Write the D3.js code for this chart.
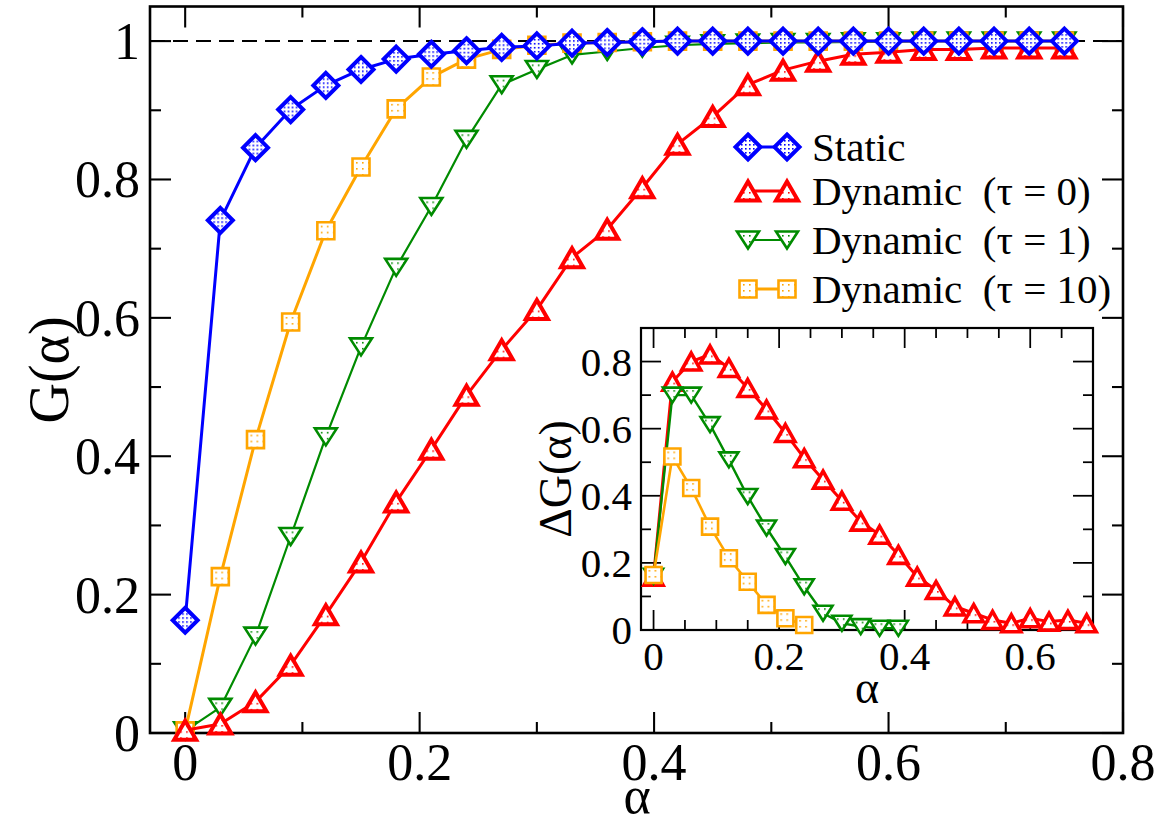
<!DOCTYPE html>
<html>
<head>
<meta charset="utf-8">
<script src="https://cdn.jsdelivr.net/npm/d3@7"></script>
<style>
  html, body { margin: 0; padding: 0; background: #fff; }
  svg { display: block; }
</style>
</head>
<body>
<svg id="chart" width="1172" height="824"></svg>
<script>
// ---------------- DATA ----------------
const alpha = [0, 0.03, 0.06, 0.09, 0.12, 0.15, 0.18, 0.21, 0.24, 0.27, 0.30, 0.33, 0.36,
               0.39, 0.42, 0.45, 0.48, 0.51, 0.54, 0.57, 0.60, 0.63, 0.66, 0.69, 0.72, 0.75];
const staticG = [0.163, 0.741, 0.846, 0.901, 0.936, 0.959, 0.974, 0.981, 0.986, 0.991, 0.993, 0.997, 0.998,
                 0.999, 1.0, 1.0, 1.0, 1.0, 1.0, 1.0, 1.0, 1.0, 1.0, 1.0, 1.0, 1.0];
const tau0G = [0.004, 0.013, 0.045, 0.098, 0.171, 0.247, 0.334, 0.410, 0.488, 0.554, 0.612, 0.687, 0.728,
               0.788, 0.851, 0.891, 0.937, 0.958, 0.971, 0.981, 0.984, 0.988, 0.988, 0.990, 0.990, 0.990];
const tau1G = [0.003, 0.037, 0.140, 0.284, 0.428, 0.558, 0.673, 0.761, 0.858, 0.937, 0.959, 0.980, 0.985,
               0.990, 0.994, 0.996, 0.997, 0.998, 0.998, 0.999, 0.999, 1.0, 1.0, 1.0, 1.0, 1.0];
const tau10G = [0.003, 0.226, 0.424, 0.594, 0.726, 0.818, 0.902, 0.948, 0.974, 0.988, 0.994, 0.997, 0.998,
                0.999, 1.0, 1.0, 1.0, 1.0, 1.0, 1.0, 1.0, 1.0, 1.0, 1.0, 1.0, 1.0];

// inset: Delta G(alpha)
const insetAlphaTau0 = [0, 0.03, 0.06, 0.09, 0.12, 0.15, 0.18, 0.21, 0.24, 0.27, 0.30, 0.33,
                        0.36, 0.39, 0.42, 0.45, 0.48, 0.51, 0.54, 0.57, 0.60, 0.63, 0.66, 0.69];
const dTau0 = [0.159, 0.740, 0.800, 0.821, 0.781, 0.721, 0.657, 0.587, 0.512, 0.448, 0.385, 0.323,
               0.284, 0.224, 0.159, 0.119, 0.070, 0.050, 0.030, 0.020, 0.035, 0.025, 0.030, 0.020];
const insetAlphaTau1 = [0, 0.03, 0.06, 0.09, 0.12, 0.15, 0.18, 0.21, 0.24, 0.27, 0.30, 0.33, 0.36, 0.39];
const dTau1 = [0.160, 0.700, 0.700, 0.612, 0.507, 0.398, 0.304, 0.219, 0.129, 0.050, 0.020, 0.010, 0.005, 0.005];
const insetAlphaTau10 = [0, 0.03, 0.06, 0.09, 0.12, 0.15, 0.18, 0.21, 0.24];
const dTau10 = [0.164, 0.517, 0.423, 0.308, 0.214, 0.144, 0.075, 0.035, 0.015];

const xMajor = [0, 0.2, 0.4, 0.6, 0.8];
const xMajorLabels = ["0", "0.2", "0.4", "0.6", "0.8"];
const xMinor = [0.1, 0.3, 0.5, 0.7];
const yMajor = [0, 0.2, 0.4, 0.6, 0.8, 1];
const yMajorLabels = ["0", "0.2", "0.4", "0.6", "0.8", "1"];
const yMinor = [0.1, 0.3, 0.5, 0.7, 0.9];

const ixMajor = [0, 0.2, 0.4, 0.6];
const ixMajorLabels = ["0", "0.2", "0.4", "0.6"];
const ixMinor = [0.05, 0.1, 0.15, 0.25, 0.3, 0.35, 0.45, 0.5, 0.55, 0.65];
const iyMajor = [0, 0.2, 0.4, 0.6, 0.8];
const iyMajorLabels = ["0", "0.2", "0.4", "0.6", "0.8"];
const iyMinor = [0.1, 0.3, 0.5, 0.7];

const legendLabels = ["Static", "Dynamic  (\u03C4 = 0)", "Dynamic  (\u03C4 = 1)", "Dynamic  (\u03C4 = 10)"];

// ---------------- STYLE ----------------
const FONT = "Liberation Serif";
const C = { blue: "#0000ff", red: "#ff0000", green: "#008b00", orange: "#ffa500" };
const svg = d3.select("#chart");

const defs = svg.append("defs");
function pattern(id, color, size, dot) {
  const p = defs.append("pattern").attr("id", id).attr("width", size).attr("height", size)
    .attr("patternUnits", "userSpaceOnUse");
  p.append("rect").attr("width", size).attr("height", size).attr("fill", "#fff");
  p.append("rect").attr("x", 1).attr("y", 1).attr("width", dot).attr("height", dot).attr("fill", color);
}
pattern("pBlue", C.blue, 4, 1.6);
pattern("pRed", C.red, 6, 1.6);
pattern("pGreen", C.green, 6, 1.6);
pattern("pOrange", C.orange, 6, 1.6);

function diamondPath(r) { return `M0,${-r}L${r},0L0,${r}L${-r},0Z`; }
function squarePath(r) { return `M${-r},${-r}H${r}V${r}H${-r}Z`; }
function triUpPath(w, h) { return `M0,${-h/2}L${w/2},${h/2}L${-w/2},${h/2}Z`; }
function triDownPath(w, h) { return `M0,${h/2}L${w/2},${-h/2}L${-w/2},${-h/2}Z`; }

const mainStyles = {
  staticS: { color: C.blue, fill: "url(#pBlue)", path: diamondPath(12.5), sw: 4, lw: 3 },
  tau0: { color: C.red, fill: "url(#pRed)", path: triUpPath(22, 19), sw: 4, lw: 3 },
  tau1: { color: C.green, fill: "url(#pGreen)", path: triDownPath(22, 17), sw: 2.6, lw: 2.2 },
  tau10: { color: C.orange, fill: "url(#pOrange)", path: squarePath(8.5), sw: 2.6, lw: 3 }
};
const insetStyles = {
  tau0: { color: C.red, fill: "url(#pRed)", path: triUpPath(19, 17), sw: 3.6, lw: 3 },
  tau1: { color: C.green, fill: "url(#pGreen)", path: triDownPath(19, 15), sw: 2.6, lw: 2.4 },
  tau10: { color: C.orange, fill: "url(#pOrange)", path: squarePath(8), sw: 2.6, lw: 2.6 }
};

function txt(g) {
  return g.append("text").attr("font-family", FONT).attr("fill", "#000");
}

// ---------------- MAIN PLOT ----------------
const x = d3.scaleLinear().domain([-0.03, 0.8]).range([150, 1123]);
const y = d3.scaleLinear().domain([0, 1.05]).range([733, 6.5]);

function drawFrame(g, xs, ys, major, minor, majX, minX, majY, minY, sw) {
  const [x0, x1] = xs.range(), [y0, y1] = ys.range();
  g.append("rect").attr("x", x0).attr("y", y1).attr("width", x1 - x0).attr("height", y0 - y1)
    .attr("fill", "none").attr("stroke", "#000").attr("stroke-width", sw);
  const tk = g.append("g").attr("stroke", "#000").attr("stroke-width", sw * 0.8);
  const addX = (vals, len) => vals.forEach(v => {
    tk.append("line").attr("x1", xs(v)).attr("x2", xs(v)).attr("y1", y0).attr("y2", y0 - len);
    tk.append("line").attr("x1", xs(v)).attr("x2", xs(v)).attr("y1", y1).attr("y2", y1 + len);
  });
  const addY = (vals, len) => vals.forEach(v => {
    tk.append("line").attr("y1", ys(v)).attr("y2", ys(v)).attr("x1", x0).attr("x2", x0 + len);
    tk.append("line").attr("y1", ys(v)).attr("y2", ys(v)).attr("x1", x1).attr("x2", x1 - len);
  });
  addX(majX, major); addX(minX, minor); addY(majY, major); addY(minY, minor);
}

const main = svg.append("g");
main.append("rect").attr("x", 150).attr("y", 6.5).attr("width", 973).attr("height", 726.5).attr("fill", "#fff");
drawFrame(main, x, y, 21, 11, xMajor, xMinor, yMajor, yMinor, 2.6);

xMajor.forEach((d, i) => txt(main).attr("x", x(d)).attr("y", 780).attr("text-anchor", "middle")
  .attr("font-size", 52).text(xMajorLabels[i]));
yMajor.forEach((d, i) => txt(main).attr("x", 140).attr("y", y(d) + 18).attr("text-anchor", "end")
  .attr("font-size", 52).text(yMajorLabels[i]));

txt(main).attr("x", 637).attr("y", 813).attr("text-anchor", "middle").attr("font-size", 52).text("\u03B1");
txt(main).attr("transform", "translate(68,370) rotate(-90)").attr("text-anchor", "middle")
  .attr("font-size", 56).text("G(\u03B1)");

main.append("line").attr("x1", x(-0.03)).attr("x2", x(0.8)).attr("y1", y(1)).attr("y2", y(1))
  .attr("stroke", "#000").attr("stroke-width", 2).attr("stroke-dasharray", "15,8");

function drawSeries(g, xs, ys, xv, yv, st) {
  const pts = xv.map((a, i) => [a, yv[i]]);
  const line = d3.line().x(d => xs(d[0])).y(d => ys(d[1]));
  g.append("path").datum(pts).attr("d", line).attr("fill", "none")
    .attr("stroke", st.color).attr("stroke-width", st.lw).attr("stroke-linejoin", "round");
  g.selectAll(null).data(pts).join("path")
    .attr("transform", d => `translate(${xs(d[0])},${ys(d[1])})`)
    .attr("d", st.path).attr("fill", st.fill).attr("stroke", st.color)
    .attr("stroke-width", st.sw).attr("stroke-linejoin", "miter");
}

drawSeries(main.append("g"), x, y, alpha, tau1G, mainStyles.tau1);
drawSeries(main.append("g"), x, y, alpha, tau10G, mainStyles.tau10);
drawSeries(main.append("g"), x, y, alpha, tau0G, mainStyles.tau0);
drawSeries(main.append("g"), x, y, alpha, staticG, mainStyles.staticS);

// legend
const legendStyles = [mainStyles.staticS, mainStyles.tau0, mainStyles.tau1, mainStyles.tau10];
const legendRows = [147, 191, 240, 289];
const lg = svg.append("g");
legendLabels.forEach((lab, i) => {
  const st = legendStyles[i], yy = legendRows[i];
  lg.append("line").attr("x1", 748).attr("x2", 787).attr("y1", yy).attr("y2", yy)
    .attr("stroke", st.color).attr("stroke-width", st.lw);
  [748, 787].forEach(xx => lg.append("path").attr("transform", `translate(${xx},${yy})`)
    .attr("d", st.path).attr("fill", st.fill).attr("stroke", st.color).attr("stroke-width", st.sw));
  txt(lg).attr("x", 812).attr("y", yy + 14).attr("font-size", 41)
    .style("white-space", "pre").attr("xml:space", "preserve").text(lab);
});

// ---------------- INSET ----------------
const xi = d3.scaleLinear().domain([-0.02, 0.7]).range([641, 1093]);
const yi = d3.scaleLinear().domain([0, 0.9]).range([630, 328]);
const inset = svg.append("g");
inset.append("rect").attr("x", 641).attr("y", 328).attr("width", 452).attr("height", 302).attr("fill", "#fff");
drawFrame(inset, xi, yi, 20, 10, ixMajor, ixMinor, iyMajor, iyMinor, 2.2);

ixMajor.forEach((d, i) => txt(inset).attr("x", xi(d)).attr("y", 670).attr("text-anchor", "middle")
  .attr("font-size", 41).text(ixMajorLabels[i]));
iyMajor.forEach((d, i) => txt(inset).attr("x", 632).attr("y", yi(d) + 14).attr("text-anchor", "end")
  .attr("font-size", 41).text(iyMajorLabels[i]));
txt(inset).attr("x", 867).attr("y", 703).attr("text-anchor", "middle").attr("font-size", 46).text("\u03B1");
txt(inset).attr("transform", "translate(571,479) rotate(-90)").attr("text-anchor", "middle")
  .attr("font-size", 46).text("\u0394G(\u03B1)");

drawSeries(inset.append("g"), xi, yi, insetAlphaTau0, dTau0, insetStyles.tau0);
drawSeries(inset.append("g"), xi, yi, insetAlphaTau1, dTau1, insetStyles.tau1);
drawSeries(inset.append("g"), xi, yi, insetAlphaTau10, dTau10, insetStyles.tau10);
</script>
</body>
</html>
